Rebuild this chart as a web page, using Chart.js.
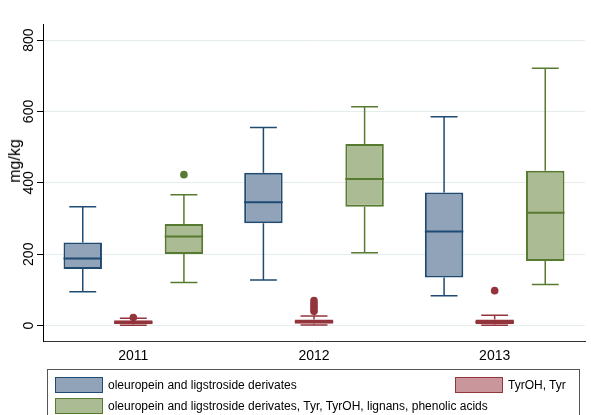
<!DOCTYPE html>
<html>
<head>
<meta charset="utf-8">
<script src="https://cdn.jsdelivr.net/npm/chart.js@4.4.1/dist/chart.umd.min.js"></script>
<style>
    body { margin: 0; background: #fff; }
    #wrap { position: relative; width: 591px; height: 415px; overflow: hidden; font-family: "Liberation Sans", Arial, sans-serif; }
    #yTitle { position: absolute; left: 15px; top: 161px; transform: translate(-50%, -50%) rotate(-90deg); font-size: 16px; white-space: nowrap; }
    #legend { position: absolute; left: 47px; top: 369px; width: 533px; height: 60px; border: 1px solid #555; box-sizing: border-box; }
    .legend__item { position: absolute; display: flex; align-items: center; font-size: 12px; white-space: nowrap; }
    .legend__swatch { width: 48px; height: 16px; border: 1.5px solid; box-sizing: border-box; margin-right: 5px; }
</style>
</head>
<body>
<div id="wrap">
    <canvas id="chart" width="591" height="415"></canvas>
    <div id="yTitle">mg/kg</div>
    <div id="legend"></div>
</div>
<script>
    /*
        ----------> DATA <----------
    */

    const years = ["2011", "2012", "2013"];
    const yTicks = [0, 200, 400, 600, 800];

    // oleuropein and ligstroside derivates
    const oleoLo  = [95, 128, 84];
    const oleoQ1  = [159, 287, 135];
    const oleoMed = [188, 346, 264];
    const oleoQ3  = [233, 428, 373];
    const oleoHi  = [333, 555, 585];
    const oleoOut = [[], [], []];

    // TyrOH, Tyr
    const tyrLo  = [1, 2, 1];
    const tyrQ1  = [4, 5, 4];
    const tyrMed = [9, 11, 10];
    const tyrQ3  = [15, 17, 17];
    const tyrHi  = [21, 27, 29];
    const tyrOut = [[23], [40, 47, 54, 62, 70], [98]];

    // total phenols
    const totLo  = [121, 204, 115];
    const totQ1  = [201, 333, 181];
    const totMed = [250, 411, 316];
    const totQ3  = [285, 509, 434];
    const totHi  = [367, 613, 721];
    const totOut = [[423], [], []];

    const series = [
        { label: "oleuropein and ligstroside derivates", lo: oleoLo, q1: oleoQ1, med: oleoMed, q3: oleoQ3, hi: oleoHi, out: oleoOut, fill: "#90a3b8", line: "#1f4a72", legendPos: [7, 7] },
        { label: "TyrOH, Tyr", lo: tyrLo, q1: tyrQ1, med: tyrMed, q3: tyrQ3, hi: tyrHi, out: tyrOut, fill: "#c9979b", line: "#93343c", legendPos: [407, 7] },
        { label: "oleuropein and ligstroside derivates, Tyr, TyrOH, lignans, phenolic acids", lo: totLo, q1: totQ1, med: totMed, q3: totQ3, hi: totHi, out: totOut, fill: "#abbb94", line: "#587a30", legendPos: [7, 28] },
    ];

    /*
        ----------> BOX EXTRAS <----------
    */

    const boxExtras = {
        id: "boxExtras",
        afterDatasetsDraw(chart) {
            const ctx = chart.ctx;
            const y = chart.scales.y;

            series.forEach((s, di) => {
                const meta = chart.getDatasetMeta(di);
                meta.data.forEach((bar, i) => {
                    const half = bar.width / 2;
                    const cap = bar.width * 0.35;
                    const yQ1 = y.getPixelForValue(s.q1[i]);
                    const yQ3 = y.getPixelForValue(s.q3[i]);
                    const yLo = y.getPixelForValue(s.lo[i]);
                    const yHi = y.getPixelForValue(s.hi[i]);
                    const yMed = y.getPixelForValue(s.med[i]);

                    ctx.save();
                    ctx.strokeStyle = s.line;
                    ctx.lineWidth = 1.5;
                    ctx.beginPath();
                    ctx.moveTo(bar.x, yQ3); ctx.lineTo(bar.x, yHi);
                    ctx.moveTo(bar.x - cap, yHi); ctx.lineTo(bar.x + cap, yHi);
                    ctx.moveTo(bar.x, yQ1); ctx.lineTo(bar.x, yLo);
                    ctx.moveTo(bar.x - cap, yLo); ctx.lineTo(bar.x + cap, yLo);
                    ctx.stroke();

                    ctx.lineWidth = 2;
                    ctx.beginPath();
                    ctx.moveTo(bar.x - half, yMed); ctx.lineTo(bar.x + half, yMed);
                    ctx.stroke();

                    ctx.fillStyle = s.line;
                    s.out[i].forEach(v => {
                        ctx.beginPath();
                        ctx.arc(bar.x, y.getPixelForValue(v), 3.8, 0, Math.PI * 2);
                        ctx.fill();
                    });
                    ctx.restore();
                });
            });
        }
    };

    /*
        ----------> CHART <----------
    */

    const font = { family: "'Liberation Sans', Arial, sans-serif", size: 14 };

    new Chart(document.getElementById("chart"), {
        type: "bar",
        data: {
            labels: years,
            datasets: series.map(s => {
                return {
                    label: s.label,
                    data: years.map((_, i) => [s.q1[i], s.q3[i]]),
                    backgroundColor: s.fill,
                    borderColor: s.line,
                    borderWidth: 2,
                    borderSkipped: false,
                    categoryPercentage: 0.84,
                    barPercentage: 0.76,
                };
            }),
        },
        options: {
            responsive: false,
            animation: false,
            devicePixelRatio: 1,
            layout: { padding: { top: 24, left: 0, right: 6, bottom: 50 } },
            plugins: {
                legend: { display: false },
                tooltip: { enabled: false },
            },
            scales: {
                x: {
                    grid: { display: false, drawTicks: false },
                    border: { display: true, color: "#333", width: 1 },
                    ticks: { color: "#000", font, padding: 7 },
                    afterFit: scale => { scale.height = 24; },
                },
                y: {
                    min: -43,
                    max: 845,
                    afterBuildTicks: scale => { scale.ticks = yTicks.map(v => ({ value: v })); },
                    grid: { color: "#e4ecec", lineWidth: 1, tickLength: 6, tickColor: "#000", tickWidth: 1 },
                    border: { display: true, color: "#000", width: 1 },
                    ticks: { color: "#000", font, padding: -4, minRotation: 90, maxRotation: 90, crossAlign: "center" },
                    afterFit: scale => { scale.width = 43; },
                },
            },
        },
        plugins: [boxExtras],
    });

    /*
        ----------> LEGEND <----------
    */

    const legend = document.getElementById("legend");
    series.forEach(s => {
        const item = document.createElement("div");
        item.classList.add("legend__item");
        item.style.left = s.legendPos[0] + "px";
        item.style.top = s.legendPos[1] + "px";
        item.innerHTML = `<span class="legend__swatch" style="background:${s.fill};border-color:${s.line}"></span>${s.label}`;
        legend.append(item);
    });
</script>
</body>
</html>
